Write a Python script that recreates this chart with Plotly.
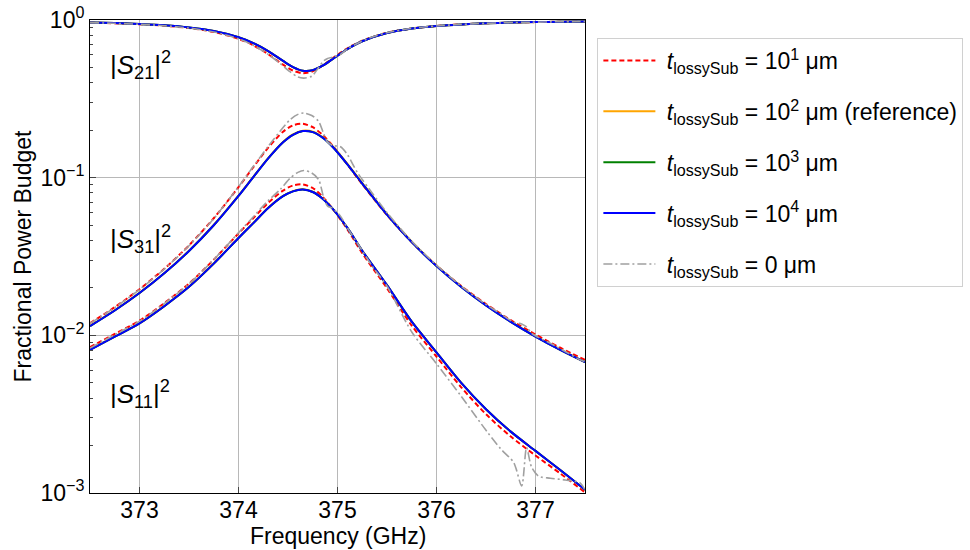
import math
import plotly.graph_objects as go

# ---------------- data ----------------
FREQ = [372.5, 372.75, 373.0, 373.25, 373.5, 373.75, 374.0, 374.15, 374.3, 374.45,
        374.55, 374.65, 374.75, 374.85, 374.95, 375.1, 375.25, 375.5, 375.75, 376.0,
        376.25, 376.5, 376.75, 377.0, 377.25, 377.5]

# t = 10^4 um
S21_1E4 = [0.9645, 0.9556, 0.943, 0.925, 0.896, 0.852, 0.778, 0.714, 0.635, 0.55,
           0.503, 0.477, 0.481, 0.513, 0.565, 0.654, 0.733, 0.826, 0.882, 0.916,
           0.938, 0.953, 0.963, 0.970, 0.975, 0.979]
S31_1E4 = [0.01145, 0.01438, 0.01854, 0.02472, 0.03429, 0.0499, 0.0766, 0.1009, 0.1324, 0.1676,
           0.1871, 0.1974, 0.1946, 0.1795, 0.1572, 0.1216, 0.0918, 0.0583, 0.0390, 0.0275,
           0.02026, 0.01548, 0.01218, 0.00982, 0.00808, 0.00676]
S11_1E4 = [0.0081, 0.0098, 0.0119, 0.0153, 0.0203, 0.0285, 0.0414, 0.0515, 0.0642, 0.0763,
           0.0819, 0.0840, 0.0811, 0.0735, 0.0636, 0.0480, 0.0344, 0.0208, 0.0122, 0.0078,
           0.0050, 0.0034, 0.00245, 0.00185, 0.00140, 0.00105]

# t = 10^3 um and 10^2 um (reference) - indistinguishable from 10^4 in the picture
S21_1E3 = [0.9645, 0.9556, 0.943, 0.925, 0.896, 0.852, 0.778, 0.714, 0.635, 0.55,
           0.503, 0.477, 0.481, 0.513, 0.565, 0.654, 0.733, 0.826, 0.882, 0.916,
           0.938, 0.953, 0.963, 0.970, 0.975, 0.979]
S31_1E3 = [0.01145, 0.01438, 0.01854, 0.02472, 0.03429, 0.0499, 0.0766, 0.1009, 0.1324, 0.1676,
           0.1871, 0.1974, 0.1946, 0.1795, 0.1572, 0.1216, 0.0918, 0.0583, 0.0390, 0.0275,
           0.02026, 0.01548, 0.01218, 0.00982, 0.00808, 0.00676]
S11_1E3 = [0.0081, 0.0098, 0.0119, 0.0153, 0.0203, 0.0285, 0.0414, 0.0515, 0.0642, 0.0763,
           0.0819, 0.0840, 0.0811, 0.0735, 0.0636, 0.0480, 0.0344, 0.0208, 0.0122, 0.0078,
           0.0050, 0.0034, 0.00245, 0.00185, 0.00140, 0.00105]
S21_1E2 = [0.9645, 0.9556, 0.943, 0.925, 0.896, 0.852, 0.778, 0.714, 0.635, 0.55,
           0.503, 0.477, 0.481, 0.513, 0.565, 0.654, 0.733, 0.826, 0.882, 0.916,
           0.938, 0.953, 0.963, 0.970, 0.975, 0.979]
S31_1E2 = [0.01148, 0.01442, 0.01860, 0.02480, 0.03440, 0.0501, 0.0769, 0.1013, 0.1330, 0.1684,
           0.1880, 0.1984, 0.1958, 0.1808, 0.1584, 0.1225, 0.0924, 0.0586, 0.0392, 0.0276,
           0.02032, 0.01552, 0.01221, 0.00984, 0.00810, 0.00677]
S11_1E2 = [0.00812, 0.00982, 0.01192, 0.01533, 0.02034, 0.02856, 0.04150, 0.05165, 0.0644, 0.0766,
           0.0822, 0.0843, 0.0814, 0.0737, 0.0637, 0.0480, 0.0344, 0.0208, 0.0122, 0.0078,
           0.0050, 0.0034, 0.00245, 0.00185, 0.00140, 0.00105]

# t = 10^1 um
S21_1E1 = [0.9625, 0.953, 0.939, 0.92, 0.889, 0.840, 0.760, 0.691, 0.6065, 0.521,
           0.478, 0.46, 0.473, 0.514, 0.571, 0.662, 0.739, 0.830, 0.884, 0.917,
           0.9385, 0.9527, 0.9626, 0.9697, 0.975, 0.979]
S31_1E1 = [0.01193, 0.01508, 0.01962, 0.02644, 0.0372, 0.0553, 0.0871, 0.1166, 0.155, 0.1956,
           0.2147, 0.2197, 0.2089, 0.1866, 0.1596, 0.1211, 0.0908, 0.0579, 0.0390, 0.0277,
           0.02055, 0.01579, 0.01249, 0.01011, 0.00834, 0.00699]
S11_1E1 = [0.00842, 0.0102, 0.01238, 0.0160, 0.0213, 0.0302, 0.0443, 0.0554, 0.0693, 0.0828,
           0.0893, 0.0907, 0.0860, 0.0757, 0.0636, 0.0470, 0.0332, 0.0199, 0.01153, 0.00733,
           0.00468, 0.00316, 0.00228, 0.00173, 0.00133, 0.00101]

# t = 0 um (own frequency grid)
FREQ_0 = [372.5, 372.75, 373.0, 373.25, 373.5, 373.75, 374.0, 374.15, 374.3, 374.42,
          374.52, 374.6, 374.66, 374.74, 374.81, 374.86, 374.9, 374.95, 375.03, 375.1,
          375.2, 375.35, 375.5, 375.75, 376.0, 376.25, 376.5, 376.65, 376.78, 376.86,
          376.91, 376.96, 377.03, 377.15, 377.3, 377.45, 377.5]
S21_0 = [0.962, 0.953, 0.939, 0.92, 0.889, 0.84, 0.76, 0.69, 0.605, 0.53,
         0.47, 0.435, 0.428, 0.44, 0.50, 0.55, 0.57, 0.58, 0.605, 0.655,
         0.71, 0.78, 0.83, 0.884, 0.917, 0.938, 0.953, 0.959, 0.964, 0.966,
         0.967, 0.969, 0.970, 0.973, 0.976, 0.978, 0.979]
S31_0 = [0.0119, 0.0150, 0.0195, 0.0263, 0.0370, 0.0550, 0.0875, 0.118, 0.158, 0.197,
         0.233, 0.252, 0.257, 0.248, 0.227, 0.19, 0.168, 0.160, 0.157, 0.140,
         0.108, 0.0800, 0.0600, 0.0395, 0.0279, 0.0205, 0.0157, 0.0137, 0.0121, 0.0118,
         0.0113, 0.0103, 0.0097, 0.0089, 0.0079, 0.0070, 0.0068]
S11_0 = [0.0083, 0.0101, 0.0123, 0.0159, 0.0212, 0.0302, 0.0447, 0.0565, 0.0715, 0.084,
         0.099, 0.108, 0.111, 0.107, 0.097, 0.075, 0.066, 0.064, 0.057, 0.048,
         0.0385, 0.0275, 0.0205, 0.0105, 0.0066, 0.0041, 0.0025, 0.0019, 0.00156, 0.00111,
         0.00194, 0.00146, 0.00128, 0.00124, 0.00121, 0.00116, 0.00104]

SERIES_NAMES = [
    "\u00a0<i>t</i><sub>lossySub</sub> = 10<sup>1</sup> μm",
    "\u00a0<i>t</i><sub>lossySub</sub> = 10<sup>2</sup> μm (reference)",
    "\u00a0<i>t</i><sub>lossySub</sub> = 10<sup>3</sup> μm",
    "\u00a0<i>t</i><sub>lossySub</sub> = 10<sup>4</sup> μm",
    "\u00a0<i>t</i><sub>lossySub</sub> = 0 μm",
]
Y_TICKS = [1e-3, 1e-2, 1e-1, 1]
Y_TICKTEXT = ["10<sup>−3</sup>", "10<sup>−2</sup>", "10<sup>−1</sup>", "10<sup>0</sup>"]
X_TICKS = [373, 374, 375, 376, 377]
X_TITLE = "Frequency (GHz)"
Y_TITLE = "Fractional Power Budget"
LABELS = ["|<i>S</i><sub>21</sub>|<sup>2</sup>", "|<i>S</i><sub>31</sub>|<sup>2</sup>",
          "|<i>S</i><sub>11</sub>|<sup>2</sup>"]
LABEL_Y = [0.52, 0.041, 0.00424]

# ---------------- figure ----------------
FONT = "Arial, 'Liberation Sans', sans-serif"
styles = [
    dict(color="#ff0000", width=2, dash="5px,3px"),
    dict(color="#ffa500", width=2, dash="solid"),
    dict(color="#008000", width=2, dash="solid"),
    dict(color="#0000ff", width=2, dash="solid"),
    dict(color="#a0a0a0", width=1.6, dash="9px,3px,2px,3px"),
]
groups = [
    (FREQ, [S21_1E1, S31_1E1, S11_1E1]),
    (FREQ, [S21_1E2, S31_1E2, S11_1E2]),
    (FREQ, [S21_1E3, S31_1E3, S11_1E3]),
    (FREQ, [S21_1E4, S31_1E4, S11_1E4]),
    (FREQ_0, [S21_0, S31_0, S11_0]),
]

fig = go.Figure()
for i, (fx, curves) in enumerate(groups):
    for j, yv in enumerate(curves):
        fig.add_trace(go.Scatter(
            x=fx, y=yv, mode="lines", name=SERIES_NAMES[i],
            line=dict(shape="spline", smoothing=0.8, **styles[i]),
            legendgroup=f"g{i}", showlegend=(j == 0),
        ))

for txt, yv in zip(LABELS, LABEL_Y):
    fig.add_annotation(x=372.68, y=math.log10(yv), xref="x", yref="y",
                       text=txt, showarrow=False, xanchor="left", yanchor="middle",
                       font=dict(size=26, color="black", family=FONT))

FS = 23
# x-axis title placed as a paper annotation to sit just below the tick labels
fig.add_annotation(x=0.5, y=0, xref="paper", yref="paper", yshift=-58,
                   text=X_TITLE, showarrow=False, xanchor="center", yanchor="bottom",
                   font=dict(size=FS, color="black", family=FONT))

fig.update_layout(
    width=970, height=550,
    margin=dict(l=90, r=385, t=20, b=57, autoexpand=False),
    paper_bgcolor="white", plot_bgcolor="white",
    font=dict(family=FONT, size=FS, color="black"),
    legend=dict(x=1.025, y=0.962, xanchor="left", yanchor="top",
                bordercolor="#d0d0d0", borderwidth=1, bgcolor="white",
                font=dict(size=FS, family=FONT), tracegroupgap=18,
                itemwidth=52),
    showlegend=True,
)
fig.update_xaxes(
    range=[372.5, 377.5], tickvals=X_TICKS, ticks="inside", ticklen=6,
    ticklabelstandoff=-4,
    showgrid=True, gridcolor="#b8b8b8", gridwidth=1,
    showline=True, linecolor="black", linewidth=1, mirror=True,
    tickfont=dict(size=FS), zeroline=False,
)
fig.update_yaxes(
    type="log", range=[-3, 0], tickvals=Y_TICKS, ticktext=Y_TICKTEXT,
    ticks="inside", ticklen=6,
    minor=dict(tickvals=[m * 10 ** e for e in (-3, -2, -1) for m in range(2, 10)],
               ticks="inside", ticklen=3, showgrid=False),
    showgrid=True, gridcolor="#b8b8b8", gridwidth=1,
    showline=True, linecolor="black", linewidth=1, mirror=True,
    title=dict(text=Y_TITLE, font=dict(size=FS), standoff=2),
    tickfont=dict(size=FS), zeroline=False,
)

fig.write_html("out.html")
